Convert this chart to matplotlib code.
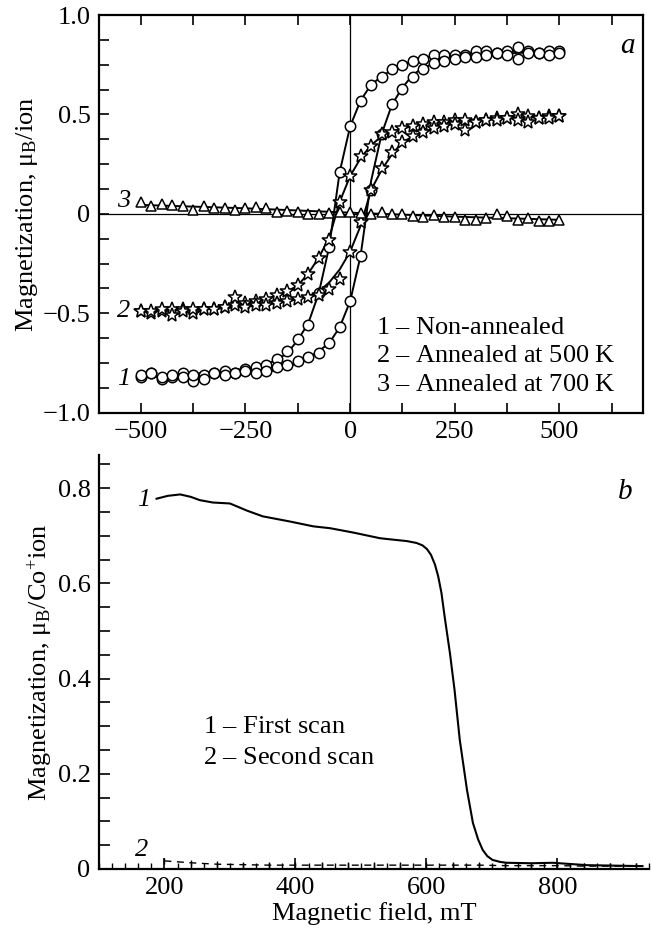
import matplotlib
matplotlib.use("Agg")
import matplotlib.pyplot as plt
from matplotlib.ticker import MultipleLocator, FixedLocator

plt.rcParams['font.family'] = ['Liberation Serif', 'DejaVu Serif']
plt.rcParams['mathtext.fontset'] = 'custom'
plt.rcParams['mathtext.rm'] = 'Liberation Serif'
plt.rcParams['mathtext.it'] = 'Liberation Serif:italic'
plt.rcParams['axes.unicode_minus'] = True

# ---------------- Panel a data ----------------
field_a = [-500, -475, -450, -425, -400, -375, -350, -325, -300, -275, -250, -225, -200,
           -175, -150, -125, -100, -75, -50, -25, 0, 25, 50, 75, 100, 125, 150, 175, 200,
           225, 250, 275, 300, 325, 350, 375, 400, 425, 450, 475, 500]

# curve 1 (non-annealed), descending and ascending branches: measured points
c1_desc = [-0.82, -0.80, -0.83, -0.82, -0.80, -0.84, -0.81, -0.80, -0.79, -0.80, -0.78, -0.77, -0.76,
           -0.73, -0.69, -0.63, -0.56, -0.40, -0.165, 0.21, 0.44, 0.57, 0.65, 0.69, 0.73, 0.75, 0.77, 0.78, 0.80,
           0.80, 0.80, 0.80, 0.82, 0.82, 0.81, 0.82, 0.84, 0.82, 0.81, 0.82, 0.82]
c1_asc = [-0.81, -0.80, -0.82, -0.81, -0.82, -0.81, -0.83, -0.80, -0.81, -0.80, -0.79, -0.80, -0.79,
          -0.77, -0.76, -0.74, -0.72, -0.70, -0.65, -0.57, -0.44, -0.21, 0.12, 0.40, 0.55, 0.63, 0.69, 0.73, 0.76,
          0.77, 0.78, 0.79, 0.79, 0.80, 0.81, 0.80, 0.78, 0.81, 0.81, 0.80, 0.81]
# curve 1 fitted lines
c1_fit_desc = [-0.82, -0.82, -0.815, -0.81, -0.81, -0.805, -0.80, -0.795, -0.79, -0.785, -0.78, -0.77, -0.755,
               -0.735, -0.70, -0.635, -0.55, -0.40, -0.165, 0.21, 0.44, 0.57, 0.65, 0.69, 0.725, 0.75, 0.77, 0.785, 0.795,
               0.80, 0.805, 0.81, 0.81, 0.815, 0.815, 0.82, 0.82, 0.82, 0.82, 0.82, 0.82]
c1_fit_asc = [-0.82, -0.82, -0.82, -0.82, -0.82, -0.82, -0.815, -0.815, -0.81, -0.81, -0.805, -0.80, -0.795,
              -0.785, -0.77, -0.75, -0.725, -0.69, -0.65, -0.57, -0.44, -0.21, 0.165, 0.40, 0.55, 0.635, 0.70, 0.735, 0.755,
              0.77, 0.78, 0.785, 0.79, 0.795, 0.80, 0.805, 0.81, 0.81, 0.815, 0.82, 0.82]

# curve 2 (annealed at 500 K)
c2_desc = [-0.49, -0.50, -0.49, -0.48, -0.48, -0.50, -0.48, -0.48, -0.47, -0.46, -0.45, -0.44, -0.43,
           -0.41, -0.39, -0.36, -0.30, -0.22, -0.13, 0.06, 0.19, 0.29, 0.34, 0.40, 0.41, 0.43, 0.44, 0.45, 0.46,
           0.46, 0.47, 0.47, 0.46, 0.47, 0.48, 0.48, 0.50, 0.49, 0.48, 0.49, 0.49]
c2_asc = [-0.49, -0.49, -0.48, -0.51, -0.49, -0.48, -0.48, -0.48, -0.47, -0.42, -0.47, -0.46, -0.46,
          -0.45, -0.44, -0.43, -0.42, -0.41, -0.38, -0.33, -0.19, -0.04, 0.12, 0.23, 0.31, 0.36, 0.39, 0.41, 0.43,
          0.44, 0.45, 0.42, 0.46, 0.47, 0.47, 0.48, 0.47, 0.46, 0.48, 0.48, 0.49]
c2_fit_desc = [-0.49, -0.488, -0.486, -0.484, -0.482, -0.479, -0.476, -0.472, -0.468, -0.463, -0.456, -0.445, -0.43,
               -0.41, -0.39, -0.36, -0.30, -0.22, -0.12, 0.06, 0.19, 0.28, 0.345, 0.39, 0.415, 0.43, 0.44, 0.45, 0.456,
               0.462, 0.467, 0.471, 0.475, 0.478, 0.481, 0.483, 0.485, 0.487, 0.488, 0.489, 0.49]
c2_fit_asc = [-0.49, -0.489, -0.488, -0.487, -0.485, -0.483, -0.481, -0.478, -0.475, -0.471, -0.467, -0.462, -0.456,
              -0.45, -0.44, -0.43, -0.415, -0.39, -0.345, -0.28, -0.19, -0.06, 0.12, 0.22, 0.30, 0.36, 0.39, 0.41, 0.43,
              0.445, 0.456, 0.463, 0.468, 0.472, 0.476, 0.479, 0.482, 0.484, 0.486, 0.488, 0.49]

# curve 3 (annealed at 700 K)
c3 = [0.06, 0.04, 0.05, 0.045, 0.04, 0.02, 0.04, 0.03, 0.03, 0.02, 0.03, 0.035, 0.03,
      0.01, 0.015, 0.01, 0.0, 0.0, 0.005, 0.01, 0.01, 0.005, 0.0, 0.01, 0.0, 0.0, -0.01, -0.015, -0.005,
      -0.015, -0.015, -0.03, -0.03, -0.02, 0.0, -0.01, -0.03, -0.02, -0.035, -0.035, -0.03]
c3_fit_field = [-500, -250, 0, 250, 500]
c3_fit = [0.045, 0.028, 0.006, -0.014, -0.03]

xticks_a = [-500, -250, 0, 250, 500]
yticks_a = [-1.0, -0.5, 0, 0.5, 1.0]
ytick_labels_a = ['\u22121.0', '\u22120.5', '0', '0.5', '1.0']
legend_a = ['Non-annealed', 'Annealed at 500 K', 'Annealed at 700 K']

# ---------------- Panel b data ----------------
field_b1 = [188, 205, 224, 240, 254, 274, 300, 326, 350, 392, 427, 453, 488, 529, 549, 570, 585, 594,
            601, 607, 613, 618, 623, 628, 636, 643, 651, 662, 671, 679, 686, 693, 701, 712, 722, 760, 793, 845, 930]
mag_b1 = [0.778, 0.784, 0.787, 0.782, 0.775, 0.770, 0.768, 0.753, 0.741, 0.730, 0.720, 0.716, 0.707, 0.695,
          0.692, 0.689, 0.685, 0.680, 0.672, 0.660, 0.640, 0.615, 0.580, 0.529, 0.453, 0.376, 0.271, 0.166,
          0.097, 0.062, 0.040, 0.027, 0.019, 0.015, 0.013, 0.012, 0.013, 0.008, 0.006]
field_b2 = [200, 240, 280, 320, 360, 400, 440, 480, 520, 560, 600, 640, 680, 720, 760, 800, 840, 880, 920]
mag_b2 = [0.017, 0.013, 0.010, 0.009, 0.008, 0.008, 0.008, 0.008, 0.008, 0.008, 0.008, 0.008, 0.008,
          0.007, 0.007, 0.007, 0.006, 0.006, 0.006]
legend_b = ['First scan', 'Second scan']
xticks_b = [200, 400, 600, 800]
yticks_b = [0, 0.2, 0.4, 0.6, 0.8]
ytick_labels_b = ['0', '0.2', '0.4', '0.6', '0.8']

FS = 19
fig = plt.figure(figsize=(6.51, 9.38), dpi=100)

# ---------------- Panel a ----------------
ax = fig.add_axes([0.152, 0.560, 0.836, 0.424])
ax.axhline(0, color='black', lw=0.9, zorder=1)
ax.axvline(0, color='black', lw=0.9, zorder=1)
lw = 1.4
ax.plot(field_a, c1_fit_desc, color='black', lw=lw, zorder=2)
ax.plot(field_a, c1_fit_asc, color='black', lw=lw, zorder=2)
ax.plot(field_a, c2_fit_desc, color='black', lw=lw, zorder=2)
ax.plot(field_a, c2_fit_asc, color='black', lw=lw, zorder=2)
ax.plot(c3_fit_field, c3_fit, color='black', lw=lw, zorder=2)
mk = dict(linestyle='none', markerfacecolor='white', markeredgecolor='black', zorder=3)
ax.plot(field_a, c1_desc, marker='o', ms=7.5, mew=1.1, **mk)
ax.plot(field_a, c1_asc, marker='o', ms=7.5, mew=1.1, **mk)
ax.plot(field_a, c2_desc, marker='*', ms=10, mew=1.1, **mk)
ax.plot(field_a, c2_asc, marker='*', ms=10, mew=1.1, **mk)
ax.plot(field_a, c3, marker='^', ms=7.5, mew=1.1, **mk)

ax.set_xlim(-600, 700)
ax.set_ylim(-1.0, 1.0)
ax.xaxis.set_major_locator(FixedLocator(xticks_a))
ax.xaxis.set_minor_locator(MultipleLocator(125))
ax.set_yticks(yticks_a)
ax.set_yticklabels(ytick_labels_a)
ax.yaxis.set_minor_locator(MultipleLocator(0.125))
ax.tick_params(which='both', direction='in', top=True, right=False, length=7, width=1.2,
               labelsize=FS, pad=6)
for s in ax.spines.values():
    s.set_linewidth(1.6)
ax.set_ylabel(r'Magnetization, $\mathregular{\mu_B}$/ion', fontsize=FS, labelpad=2)

ax.text(0.985, 0.955, 'a', transform=ax.transAxes, fontsize=FS + 2, style='italic',
        ha='right', va='top')
ax.text(-540, 0.065, '3', fontsize=FS, style='italic', ha='center', va='center')
ax.text(-540, -0.49, '2', fontsize=FS, style='italic', ha='center', va='center')
ax.text(-540, -0.83, '1', fontsize=FS, style='italic', ha='center', va='center')
for i, lab in enumerate(legend_a):
    ax.text(62, -0.573 - i * 0.143, r'$\mathit{%d}$ – %s' % (i + 1, lab), fontsize=FS,
            ha='left', va='center')

# ---------------- Panel b ----------------
bx = fig.add_axes([0.152, 0.0736, 0.845, 0.4414])
bx.plot(field_b1, mag_b1, color='black', lw=1.5)
bx.plot(field_b2, mag_b2, color='black', lw=1.0, linestyle=(0, (5, 4)), marker='|', ms=5, mew=1.0)
bx.set_xlim(100, 940)
bx.set_ylim(0, 0.87)
bx.spines['top'].set_visible(False)
bx.spines['right'].set_visible(False)
for s in ['left', 'bottom']:
    bx.spines[s].set_linewidth(1.6)
bx.xaxis.set_major_locator(FixedLocator(xticks_b))
bx.xaxis.set_minor_locator(MultipleLocator(20))
bx.set_yticks(yticks_b)
bx.set_yticklabels(ytick_labels_b)
bx.yaxis.set_minor_locator(MultipleLocator(0.05))
bx.tick_params(which='major', direction='in', length=8, width=1.2, labelsize=FS, pad=6)
bx.tick_params(axis='y', which='minor', direction='in', length=8, width=1.2)
bx.tick_params(axis='x', which='minor', direction='in', length=4, width=1.0)
bx.set_ylabel(r'Magnetization, $\mathregular{\mu_B}$/Co$^{+}$ion', fontsize=FS, labelpad=2)
bx.set_xlabel('Magnetic field, mT', fontsize=FS, labelpad=2)

bx.text(0.97, 0.91, 'b', transform=bx.transAxes, fontsize=FS + 2, style='italic',
        ha='right', va='center')
bx.text(168, 0.775, '1', fontsize=FS, style='italic', ha='center', va='center')
bx.text(165, 0.04, '2', fontsize=FS, style='italic', ha='center', va='center')
for i, lab in enumerate(legend_b):
    bx.text(259, 0.298 - i * 0.065, r'$\mathit{%d}$ – %s' % (i + 1, lab), fontsize=FS,
            ha='left', va='center')

fig.savefig('out.png', dpi=100)
